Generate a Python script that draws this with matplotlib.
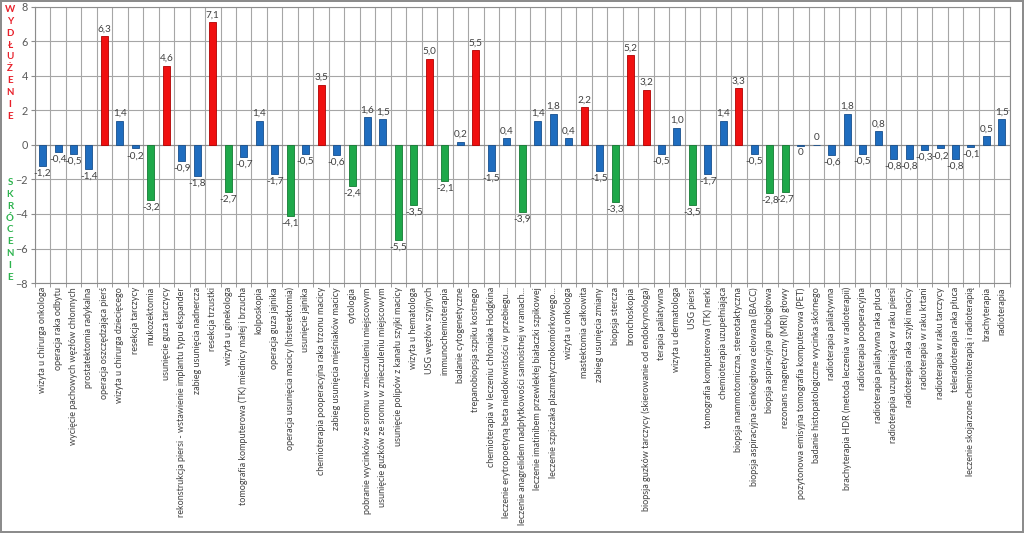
import numpy as np
import matplotlib.pyplot as plt

categories = [
    "wizyta u chirurga onkologa",
    "operacja raka odbytu",
    "wycięcie pachowych węzłów chłonnych",
    "prostatektomia radykalna",
    "operacja oszczędzająca pierś",
    "wizyta u chirurga dziecięcego",
    "resekcja tarczycy",
    "mukozektomia",
    "usunięcie guza tarczycy",
    "rekonstrukcja piersi - wstawienie implantu typu ekspander",
    "zabieg usunięcia nadnercza",
    "resekcja trzustki",
    "wizyta u ginekologa",
    "tomografia komputerowa (TK) miednicy małej i brzucha",
    "kolposkopia",
    "operacja guza jajnika",
    "operacja usunięcia macicy (histerektomia)",
    "usunięcie jajnika",
    "chemioterapia pooperacyjna raka trzonu macicy",
    "zabieg usunięcia mięśniaków macicy",
    "cytologia",
    "pobranie wycinków ze sromu w znieczuleniu miejscowym",
    "usunięcie guzków ze sromu w znieczuleniu miejscowym",
    "usunięcie polipów z kanału szyjki macicy",
    "wizyta u hematologa",
    "USG węzłów szyjnych",
    "immunochemioterapia",
    "badanie cytogenetyczne",
    "trepanobiopsja szpiku kostnego",
    "chemioterapia w leczeniu chłoniaka Hodgkina",
    "leczenie erytropoetyną beta niedokrwistości w przebiegu...",
    "leczenie anagrelidem nadpłytkowości samoistnej w ramach...",
    "leczenie imatinibem przewlekłej białaczki szpikowej",
    "leczenie szpiczaka plazmatycznokomórkowego...",
    "wizyta u onkologa",
    "mastektomia całkowita",
    "zabieg usunięcia zmiany",
    "biopsja stercza",
    "bronchoskopia",
    "biopsja guzków tarczycy (skierowanie od endokrynologa)",
    "terapia paliatywna",
    "wizyta u dermatologa",
    "USG piersi",
    "tomografia komputerowa (TK) nerki",
    "chemioterapia uzupełniająca",
    "biopsja mammotomiczna, stereotaktyczna",
    "biopsja aspiracyjna cienkoigłowa celowana (BACC)",
    "biopsja aspiracyjna gruboigłowa",
    "rezonans magnetyczny (MRI) głowy",
    "pozytonowa emisyjna tomografia komputerowa (PET)",
    "badanie histopatologiczne wycinka skórnego",
    "radioterapia paliatywna",
    "brachyterapia HDR (metoda leczenia w radioterapii)",
    "radioterapia pooperacyjna",
    "radioterapia paliatywna raka płuca",
    "radioterapia uzupełniająca w raku piersi",
    "radioterapia raka szyjki macicy",
    "radioterapia w raku krtani",
    "radioterapia w raku tarczycy",
    "teleradioterapia raka płuca",
    "leczenie skojarzone chemioterapią i radioterapią",
    "brachyterapia",
    "radioterapia",
]

values = [
    -1.2, -0.4, -0.5, -1.4, 6.3, 1.4, -0.2, -3.2, 4.6, -0.9,
    -1.8, 7.1, -2.7, -0.7, 1.4, -1.7, -4.1, -0.5, 3.5, -0.6,
    -2.4, 1.6, 1.5, -5.5, -3.5, 5.0, -2.1, 0.2, 5.5, -1.5,
    0.4, -3.9, 1.4, 1.8, 0.4, 2.2, -1.5, -3.3, 5.2, 3.2,
    -0.5, 1.0, -3.5, -1.7, 1.4, 3.3, -0.5, -2.8, -2.7, -0.04,
    0.0, -0.6, 1.8, -0.5, 0.8, -0.8, -0.8, -0.3, -0.2, -0.8,
    -0.1, 0.5, 1.5,
]

y_ticks = [8, 6, 4, 2, 0, -2, -4, -6, -8]


def _bar_color(v):
    if v >= 2:
        return "#F01010"
    if v <= -2:
        return "#1EA84A"
    return "#1F6DBF"


def _edge_color(v):
    if v >= 2:
        return "#B00000"
    if v <= -2:
        return "#137A33"
    return "#174F8C"


def _fmt(v):
    if round(v, 1) == 0:
        return "0"
    return f"{v:.1f}".replace(".", ",")


plt.rcParams["font.family"] = ["Lato", "DejaVu Sans"]

fig = plt.figure(figsize=(10.24, 5.33), dpi=100)
fig.patch.set_edgecolor("#8C8C8C")
fig.patch.set_linewidth(1.5)
ax = fig.add_axes([0.034, 0.469, 0.952, 0.518])

x = np.arange(len(values))
ax.bar(x, values, width=0.45, color=[_bar_color(v) for v in values],
       edgecolor=[_edge_color(v) for v in values], linewidth=0.6, zorder=3)

for xi, v in zip(x, values):
    if v >= 0:
        ax.annotate(_fmt(v), (xi, v), xytext=(0, 2), textcoords="offset points",
                    ha="center", va="bottom", fontsize=7.2, color="#404040")
    else:
        ax.annotate(_fmt(v), (xi, v), xytext=(0, -2), textcoords="offset points",
                    ha="center", va="top", fontsize=7.2, color="#404040")

ax.set_xlim(-0.5, len(values) - 0.5)
ax.set_ylim(-8, 8)
ax.set_yticks(y_ticks)
ax.tick_params(axis="y", labelsize=7.8, labelcolor="#595959", length=3,
               color="#8C8C8C", pad=2)

ax.set_xticks(x)
ax.set_xticklabels(categories, rotation=90, fontsize=6.5, color="#404040",
                   va="top", ha="center")
ax.set_xticks(np.arange(-0.5, len(values)), minor=True)
ax.tick_params(axis="x", which="major", length=0, pad=3)
ax.tick_params(axis="x", which="minor", length=3, color="#8C8C8C")

ax.grid(True, axis="y", which="major", color="#A6A6A6", linewidth=0.8, zorder=0)
ax.grid(True, axis="x", which="minor", color="#A6A6A6", linewidth=0.8, zorder=0)
ax.axhline(0, color="#8C8C8C", linewidth=0.8, zorder=2)
for s in ax.spines.values():
    s.set_color("#8C8C8C")
    s.set_linewidth(0.8)

fig.text(10 / 1024, 1 - 5 / 533, "\n".join("WYDŁUŻENIE"), ha="center", va="top",
         fontsize=7, fontweight="bold", color="#E8202A", linespacing=1.41)
fig.text(10 / 1024, 1 - 178 / 533, "\n".join("SKRÓCENIE"), ha="center", va="top",
         fontsize=7, fontweight="bold", color="#2DB34E", linespacing=1.41)

fig.savefig("out.png", dpi=100)
